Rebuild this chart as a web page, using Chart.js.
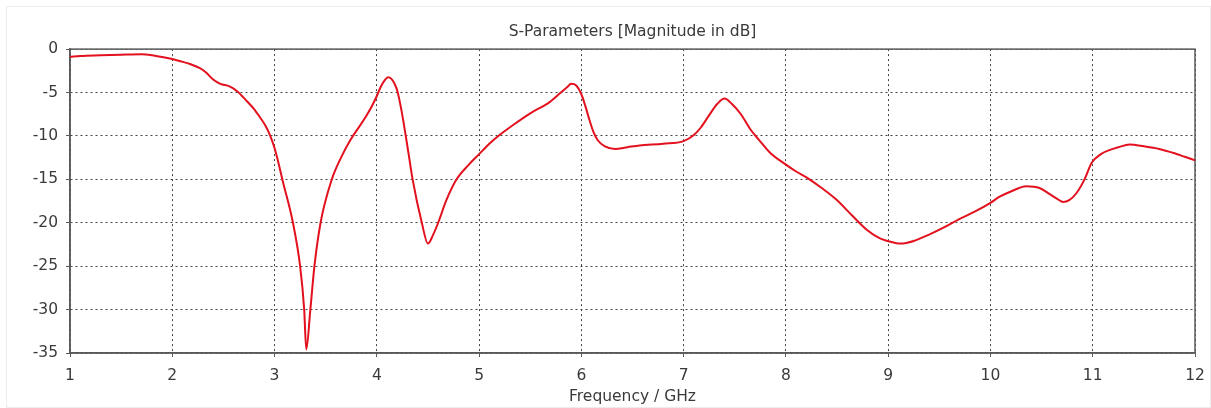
<!DOCTYPE html>
<html>
<head>
<meta charset="utf-8">
<script src="https://cdn.jsdelivr.net/npm/chart.js@4.4.1/dist/chart.umd.min.js"></script>
<style>
  html, body { margin: 0; padding: 0; background: #ffffff; }
  #wrap { width: 1211px; height: 408px; }
</style>
</head>
<body>
<div id="wrap"><canvas id="c" width="1211" height="408"></canvas></div>
<script>
const chartTitle = 'S-Parameters [Magnitude in dB]';
const xAxisTitle = 'Frequency / GHz';
const xTicks = [1, 2, 3, 4, 5, 6, 7, 8, 9, 10, 11, 12];
const yTicks = [0, -5, -10, -15, -20, -25, -30, -35];

const freqGHz = [
  1.0, 1.1, 1.3, 1.5, 1.7, 1.8, 1.9, 2.0, 2.08, 2.18, 2.27, 2.33, 2.40, 2.47, 2.56, 2.64, 2.73, 2.80, 2.86, 2.91, 2.955,
  3.0, 3.04, 3.08, 3.18, 3.25, 3.29, 3.31, 3.35, 3.39, 3.45, 3.56, 3.65, 3.74, 3.87, 3.95, 4.0, 4.04, 4.08, 4.11, 4.14, 4.17, 4.20,
  4.24, 4.31, 4.35, 4.44, 4.50, 4.55, 4.60, 4.68, 4.78, 4.9, 5.0, 5.1, 5.2, 5.35, 5.5, 5.69, 5.8, 5.86, 5.9, 5.95,
  6.0, 6.04, 6.08, 6.12, 6.16, 6.23, 6.33, 6.45, 6.57, 6.8, 7.0, 7.1, 7.17, 7.25, 7.33, 7.40, 7.47, 7.56, 7.65, 7.74,
  7.85, 8.0, 8.1, 8.23, 8.35, 8.49, 8.65, 8.79, 8.92, 9.06, 9.12, 9.25, 9.41, 9.55, 9.69, 9.85, 10.0,
  10.09, 10.2, 10.35, 10.48, 10.58, 10.66, 10.71, 10.77, 10.84, 10.92, 10.99, 11.08, 11.17, 11.25, 11.36, 11.5, 11.65, 11.8, 11.9, 12.0
];
const s11dB = [
  -0.9, -0.8, -0.72, -0.65, -0.6, -0.7, -0.9, -1.15, -1.4, -1.75, -2.2, -2.7, -3.5, -4.0, -4.3, -4.9, -6.0, -6.9, -7.9, -8.8, -9.9,
  -11.4, -13.2, -15.2, -20.0, -25.0, -30.0, -34.6, -30.0, -25.0, -20.0, -15.0, -12.5, -10.5, -8.2, -6.6, -5.4, -4.3, -3.55, -3.25, -3.4, -3.9, -4.8,
  -7.0, -12.0, -15.0, -20.0, -22.4, -21.4, -20.0, -17.4, -15.0, -13.3, -12.1, -10.9, -9.9, -8.6, -7.4, -6.1, -5.0, -4.4, -4.0, -4.2,
  -5.2, -6.6, -8.2, -9.6, -10.5, -11.2, -11.5, -11.3, -11.1, -10.9, -10.6, -9.9, -9.0, -7.6, -6.3, -5.7, -6.3, -7.5, -9.2, -10.5,
  -12.0, -13.3, -14.1, -15.0, -16.0, -17.3, -19.2, -20.8, -21.8, -22.3, -22.4, -22.1, -21.3, -20.5, -19.6, -18.7, -17.7,
  -17.0, -16.4, -15.8, -16.0, -16.7, -17.3, -17.6, -17.4, -16.6, -15.0, -13.1, -12.1, -11.6, -11.3, -11.0, -11.2, -11.5, -12.0, -12.4, -12.8
];

const FONT = '"DejaVu Sans", sans-serif';
const TXT = '#3a3a3a';
const AXIS = '#5a5a5a';
const GRID = '#444444';

const frameBox = {
  id: 'frameBox',
  beforeDraw(chart) {
    const ctx = chart.ctx;
    ctx.save();
    ctx.fillStyle = '#ffffff';
    ctx.fillRect(0, 0, chart.width, chart.height);
    ctx.strokeStyle = '#ececec';
    ctx.lineWidth = 1;
    ctx.strokeRect(6.5, 6.5, chart.width - 7, chart.height - 7);
    ctx.restore();
  },
  beforeDatasetsDraw(chart) {
    const a = chart.chartArea, ctx = chart.ctx;
    ctx.save();
    ctx.strokeStyle = AXIS;
    ctx.lineWidth = 1.5;
    ctx.strokeRect(a.left, a.top, a.right - a.left, a.bottom - a.top);
    ctx.restore();
  }
};

new Chart(document.getElementById('c'), {
  type: 'line',
  data: {
    datasets: [{
      data: freqGHz.map((f, i) => ({ x: f, y: s11dB[i] })),
      borderColor: '#e3101e',
      borderWidth: 2,
      pointRadius: 0,
      cubicInterpolationMode: 'monotone',
      fill: false
    }]
  },
  options: {
    responsive: false,
    animation: false,
    devicePixelRatio: 1,
    layout: { padding: { left: 0, right: 16, top: 0, bottom: 0 } },
    plugins: {
      legend: { display: false },
      tooltip: { enabled: false },
      title: {
        display: true,
        fullSize: false,
        text: chartTitle,
        color: TXT,
        font: { family: FONT, size: 15.5, weight: 'normal' },
        padding: { top: 23, bottom: 7.5 }
      }
    },
    scales: {
      x: {
        type: 'linear',
        min: xTicks[0],
        max: xTicks[xTicks.length - 1],
        afterBuildTicks: (s) => { s.ticks = xTicks.map(v => ({ value: v })); },
        afterFit: (s) => { s.height = 55; s.paddingLeft = 0; s.paddingRight = 0; },
        ticks: { color: TXT, font: { family: FONT, size: 15.5 }, padding: 10, maxRotation: 0, autoSkip: false },
        grid: { color: GRID, lineWidth: 1, tickLength: 4, tickColor: AXIS, tickWidth: 1 },
        border: { display: true, color: AXIS, width: 1.5, dash: [2, 3] },
        title: { display: true, text: xAxisTitle, color: TXT, font: { family: FONT, size: 15.5 }, padding: { top: 0, bottom: 2 } }
      },
      y: {
        type: 'linear',
        min: yTicks[yTicks.length - 1],
        max: yTicks[0],
        afterBuildTicks: (s) => { s.ticks = yTicks.slice().reverse().map(v => ({ value: v })); },
        afterFit: (s) => { s.width = 70; s.paddingTop = 0; s.paddingBottom = 0; },
        ticks: { color: TXT, font: { family: FONT, size: 15.5 }, padding: 8 },
        grid: { color: GRID, lineWidth: 1, tickLength: 4, tickColor: AXIS, tickWidth: 1 },
        border: { display: true, color: AXIS, width: 1.5, dash: [2, 3] }
      }
    }
  },
  plugins: [frameBox]
});
</script>
</body>
</html>
